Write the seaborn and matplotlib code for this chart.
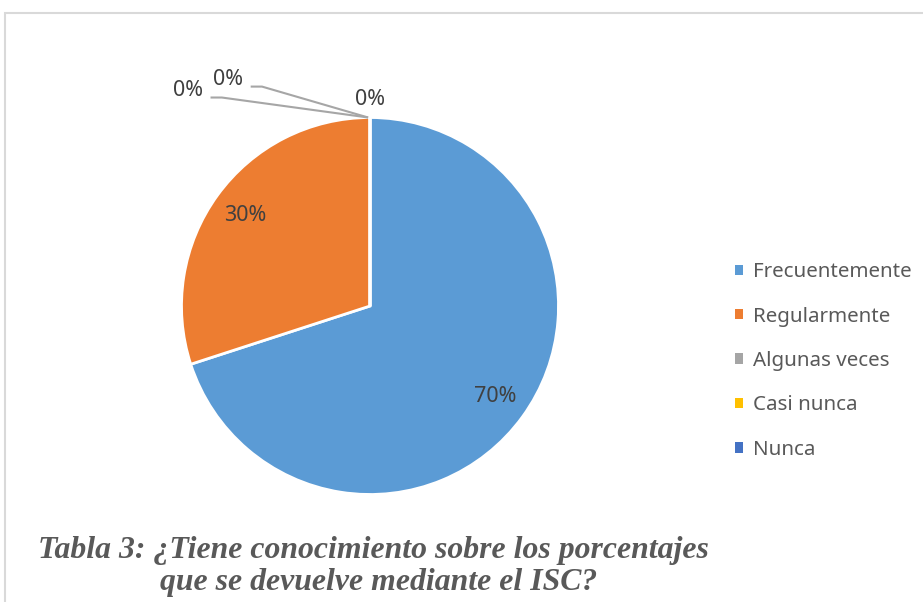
import numpy as np
import matplotlib
matplotlib.use("Agg")
import matplotlib.pyplot as plt
import seaborn as sns
from matplotlib.patches import Rectangle, Patch

# Data
categories = ['Frecuentemente', 'Regularmente', 'Algunas veces', 'Casi nunca', 'Nunca']
values = [70, 30, 0, 0, 0]
colors = ['#5B9BD5', '#ED7D31', '#A5A5A5', '#FFC000', '#4472C4']
caption_lines = ['Tabla 3: ¿Tiene conocimiento sobre los porcentajes',
                 'que se devuelve mediante el ISC?']

sns.set_theme(style='white')
plt.rcParams['font.family'] = ['Noto Sans', 'DejaVu Sans']

W, H = 923, 602
fig = plt.figure(figsize=(W / 100, H / 100), dpi=100)

# pie axes: centre (370, 296) px from bottom, radius ~188.5 px
R = 188.5
lim = 1.3
cx, cy = 370, 296
ax = fig.add_axes([(cx - lim * R) / W, (cy - lim * R) / H, 2 * lim * R / W, 2 * lim * R / H])

wedges, texts, autotexts = ax.pie(
    values, colors=colors, startangle=90, counterclock=False,
    autopct=lambda p: f'{p:.0f}%', pctdistance=0.82,
    wedgeprops=dict(edgecolor='white', linewidth=2),
    textprops=dict(color='#404040', fontsize=15.5))
ax.set_xlim(-lim, lim)
ax.set_ylim(-lim, lim)

# zero-value labels placed above the pie, two of them with leader lines
zero_pos = {2: (-0.966, 1.141), 3: (-0.753, 1.199), 4: (0.0, 1.098)}
line_col = '#A6A6A6'
for i, (tx, ty) in zero_pos.items():
    autotexts[i].set_position((tx, ty))
    if i in (2, 3):
        ang = np.deg2rad(wedges[i].theta1)
        ex, ey = np.cos(ang) - 0.01, np.sin(ang)
        y0 = ty - 0.035
        x0 = tx + 0.12
        ax.plot([x0, x0 + 0.06, ex], [y0, y0, ey], color=line_col, lw=1.5,
                solid_capstyle='butt', clip_on=False)

# legend
handles = [Patch(facecolor=c, edgecolor='none') for c in colors]
leg = fig.legend(handles, categories, loc='center left',
                 bbox_to_anchor=(727 / W, (H - 361) / H), frameon=False,
                 fontsize=14.8, handlelength=0.4, handleheight=0.4,
                 handletextpad=0.45, labelspacing=1.19, borderaxespad=0)
for t in leg.get_texts():
    t.set_color('#595959')

# chart border (bottom edge lies outside the picture)
fig.patches.append(Rectangle((5 / W, -0.1), 1.2, (H - 13) / H + 0.1,
                             transform=fig.transFigure, fill=False,
                             edgecolor='#D9D9D9', linewidth=1.5))

# caption
cap_kw = dict(fontfamily='Liberation Serif', fontstyle='italic', fontweight='bold',
              fontsize=22.9, color='#595959', va='baseline', ha='left')
fig.text(38 / W, (H - 558) / H, caption_lines[0], **cap_kw)
fig.text(160 / W, (H - 590) / H, caption_lines[1], **cap_kw)

fig.savefig('out.png', dpi=100)
